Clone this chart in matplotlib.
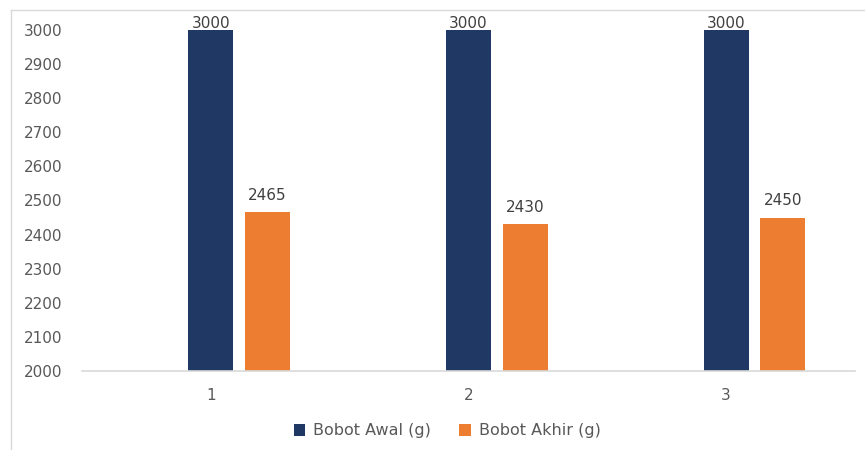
import numpy as np
import matplotlib.pyplot as plt
from matplotlib.lines import Line2D

categories = ["1", "2", "3"]
bobot_awal = [3000, 3000, 3000]
bobot_akhir = [2465, 2430, 2450]

navy = "#203864"
orange = "#ED7D31"
text_color = "#595959"

plt.rcParams["font.family"] = ["DejaVu Sans"]

fig = plt.figure(figsize=(8.65, 4.5), dpi=100)
ax = fig.add_axes([82 / 865, 79 / 450, 773 / 865, 341 / 450])

x = np.arange(len(categories))
width = 0.175
offset = 0.22

bars1 = ax.bar(x, bobot_awal, width, color=navy, label="Bobot Awal (g)", zorder=2)
bars2 = ax.bar(x + offset, bobot_akhir, width, color=orange, label="Bobot Akhir (g)", zorder=2)

for xi, v in zip(x, bobot_awal):
    ax.annotate(str(v), (xi, v), xytext=(0, -1), textcoords="offset points",
                ha="center", va="bottom", fontsize=11, color="#404040",
                annotation_clip=False)
for xi, v in zip(x, bobot_akhir):
    ax.annotate(str(v), (xi + offset, v), xytext=(0, 7), textcoords="offset points",
                ha="center", va="bottom", fontsize=11, color="#404040",
                annotation_clip=False)

ax.set_xlim(-0.5, 2.5)
ax.set_ylim(2000, 3000)
ax.set_yticks(range(2000, 3001, 100))
ax.set_xticks(x)
ax.set_xticklabels(categories)
ax.tick_params(axis="both", length=0, labelsize=11, labelcolor=text_color)
ax.tick_params(axis="y", pad=14)
ax.tick_params(axis="x", pad=12)

for side in ["top", "right", "left"]:
    ax.spines[side].set_visible(False)
ax.spines["bottom"].set_color("#d9d9d9")
ax.spines["bottom"].set_linewidth(1.2)

# outer chart frame (top and left edges)
fig.add_artist(Line2D([11 / 865, 11 / 865], [0, 1 - 10 / 450], transform=fig.transFigure,
                      color="#d9d9d9", lw=1))
fig.add_artist(Line2D([11 / 865, 1], [1 - 10 / 450, 1 - 10 / 450], transform=fig.transFigure,
                      color="#d9d9d9", lw=1))

leg = fig.legend(handles=[bars1, bars2], loc="center", bbox_to_anchor=(447 / 865, 1 - 431 / 450),
                 ncol=2, frameon=False, fontsize=11.5, handlelength=0.7, handleheight=0.7,
                 handletextpad=0.5, columnspacing=1.8)
for t in leg.get_texts():
    t.set_color(text_color)

fig.savefig("out.png", dpi=100)
